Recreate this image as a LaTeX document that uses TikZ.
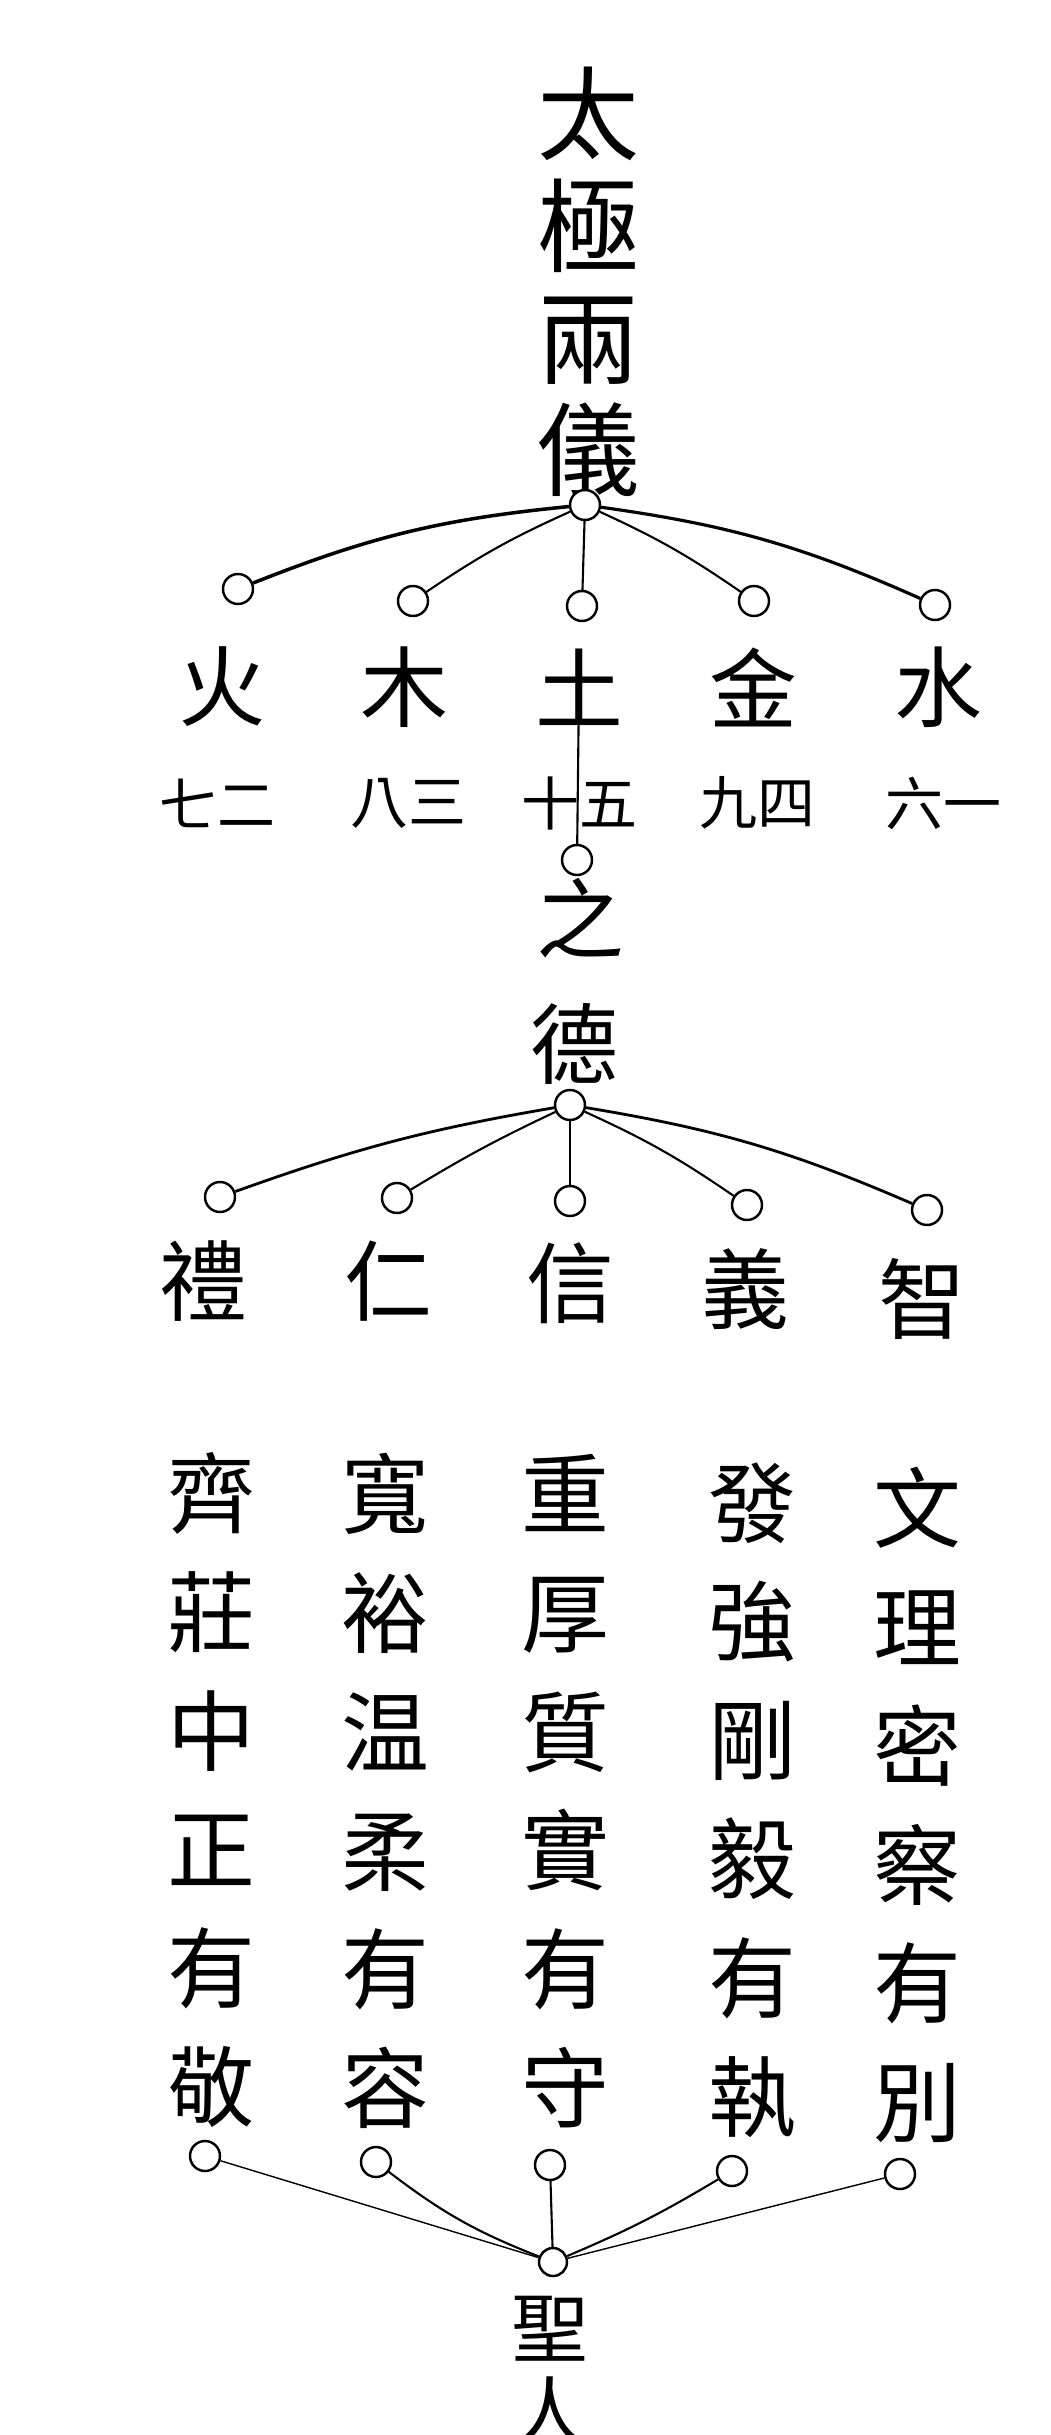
\documentclass[tikz,border=0pt]{standalone}
\usepackage{fontspec}
\newfontfamily\cjk{Noto Sans CJK TC}
\usetikzlibrary{positioning}

\tikzset{
    ring/.style={draw, circle, inner sep=0pt, minimum size=3mm, line width=0.7pt, fill=white},
    title/.style={font=\cjk\fontsize{29}{31.9}\selectfont, align=center, inner sep=0pt},
    phase/.style={font=\cjk\fontsize{25}{28}\selectfont, inner sep=0pt},
    num/.style={font=\cjk\fontsize{16.5}{18}\selectfont, inner sep=0pt},
    column/.style={font=\cjk\fontsize{25}{33.8}\selectfont, align=center, inner sep=0pt},
    link/.style={line width=0.6pt}
}

\begin{document}
\begin{tikzpicture}[x=0.1mm, y=-0.1mm]
    \useasboundingbox (0,0) rectangle (1051,2435);

    % Taiji
    \node (taiji) [title] at (588,282) {太\\極\\兩\\儀};
    \node (top) [ring] at (585,505) {};

    % Five phases
    \node (r1) [ring] at (238,589) {};
    \node (r2) [ring] at (413,601) {};
    \node (r3) [ring] at (582,606) {};
    \node (r4) [ring] at (754,601) {};
    \node (r5) [ring] at (935,605) {};
    \node (fire) [phase] at (222,687) {火};
    \node (wood) [phase] at (404,687) {木};
    \node (earth) [phase] at (579,687) {土};
    \node (metal) [phase] at (753,687) {金};
    \node (water) [phase] at (938,687) {水};
    \node (n1) [num] at (217,803) {七二};
    \node (n2) [num] at (408,803) {八三};
    \node (n3) [num] at (579,803) {十五};
    \node (n4) [num] at (757,803) {九四};
    \node (n5) [num] at (943,803) {六一};

    % Virtue
    \node (mid) [ring] at (577,860) {};
    \node (zhi) [phase] at (580,918) {之};
    \node (de) [phase] at (574,1044) {德};
    \node (deRing) [ring] at (570,1105) {};

    % Five virtues
    \node (v1r) [ring] at (220,1197) {};
    \node (v2r) [ring] at (397,1198) {};
    \node (v3r) [ring] at (570,1201) {};
    \node (v4r) [ring] at (747,1205) {};
    \node (v5r) [ring] at (927,1210) {};
    \node (li) [phase] at (203,1281) {禮};
    \node (ren) [phase] at (388,1281) {仁};
    \node (xin) [phase] at (570,1283) {信};
    \node (yi) [phase] at (745,1289) {義};
    \node (zhi2) [phase] at (922,1299) {智};

    % Columns
    \node (col1) [column] at (211,1790) {齊\\莊\\中\\正\\有\\敬};
    \node (col2) [column] at (385,1791) {寬\\裕\\温\\柔\\有\\容};
    \node (col3) [column] at (565,1791) {重\\厚\\質\\實\\有\\守};
    \node (col4) [column] at (752,1800) {發\\強\\剛\\毅\\有\\執};
    \node (col5) [column] at (917,1805) {文\\理\\密\\察\\有\\別};

    % Sage
    \node (b1) [ring] at (205,2156) {};
    \node (b2) [ring] at (376,2162) {};
    \node (b3) [ring] at (550,2165) {};
    \node (b4) [ring] at (732,2171) {};
    \node (b5) [ring] at (900,2174) {};
    \node (sageRing) [ring, minimum size=2.8mm] at (553,2262) {};
    \node (sage) [font=\cjk\fontsize{22}{24}\selectfont, align=center, inner sep=0pt] at (550,2372) {聖\\人};

    % Connectors
    \draw[link, line width=1pt] (top) to[bend right=8] (r1);
    \draw[link] (top) to[bend right=5] (r2);
    \draw[link] (top) -- (r3);
    \draw[link] (top) to[bend left=5] (r4);
    \draw[link, line width=0.9pt] (top) to[bend left=8] (r5);
    \draw[link] (earth.center) -- (mid);
    \draw[link, line width=0.8pt] (deRing) to[bend right=5] (v1r);
    \draw[link] (deRing) to[bend right=3] (v2r);
    \draw[link] (deRing) -- (v3r);
    \draw[link] (deRing) to[bend left=5] (v4r);
    \draw[link, line width=0.8pt] (deRing) to[bend left=7] (v5r);
    \draw[link, line width=0.4pt] (b1) -- (sageRing);
    \draw[link, line width=0.6pt] (b2) to[bend right=8] (sageRing);
    \draw[link, line width=0.6pt] (b3) -- (sageRing);
    \draw[link, line width=0.6pt] (b4) to[bend left=4] (sageRing);
    \draw[link, line width=0.4pt] (b5) -- (sageRing);
\end{tikzpicture}
\end{document}
